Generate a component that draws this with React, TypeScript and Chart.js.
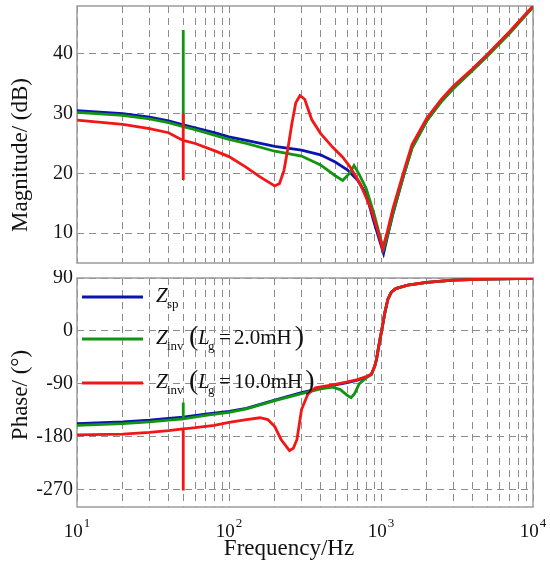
import { useEffect, useRef } from "react"
import { Chart, registerables, type Plugin } from "chart.js"

Chart.register(...registerables)

const serif = '"Liberation Serif", "Times New Roman", serif'

// Z_sp
const spMagHz = [10, 20, 30, 40, 50, 60, 80, 100, 130, 200, 300, 400, 500, 600, 700, 800, 900, 1000, 1040, 1100, 1200, 1400, 1600, 2000, 2500, 3000, 4000, 5000, 7000, 10000]
const spMagDb = [30.5, 30.0, 29.4, 28.8, 28.1, 27.6, 26.8, 26.1, 25.5, 24.5, 23.9, 23.1, 21.9, 20.6, 18.9, 16.5, 11.8, 8.0, 6.6, 9.3, 13.3, 19.4, 24.3, 28.8, 32.1, 34.3, 37.3, 39.7, 43.5, 47.9]
const spPhHz = [10, 20, 30, 40, 50, 70, 100, 130, 200, 300, 400, 500, 600, 700, 800, 865, 910, 935, 985, 1010, 1060, 1110, 1170, 1250, 1500, 2000, 3000, 5000, 10000]
const spPhDeg = [-158, -155, -152, -149, -147, -142, -137, -132, -118, -105, -98, -92, -88, -84, -79, -74, -60, -48, -14, 0, 31, 54, 66, 72, 78, 82.6, 86.4, 88.3, 89.6]

// Z_inv, Lg = 2.0 mH
const inv2MagHz = [10, 20, 30, 40, 50, 50, 50, 60, 80, 100, 130, 200, 300, 400, 500, 560, 620, 665, 720, 800, 900, 1000, 1040, 1100, 1200, 1400, 1600, 2000, 2500, 3000, 4000, 5000, 7000, 10000]
const inv2MagDb = [30.2, 29.7, 29.1, 28.5, 27.8, 44.0, 27.8, 27.3, 26.4, 25.7, 25.0, 23.7, 22.9, 21.4, 19.6, 18.8, 20.0, 21.3, 19.8, 17.4, 13.2, 8.8, 7.4, 9.5, 13.4, 19.4, 24.2, 28.8, 32.0, 34.2, 37.2, 39.6, 43.4, 47.8]
const inv2PhHz = [10, 20, 30, 40, 50, 50, 50, 70, 100, 130, 200, 300, 400, 480, 540, 600, 635, 670, 720, 800, 865, 910, 935, 985, 1010, 1060, 1110, 1170, 1250, 1500, 2000, 3000, 5000, 10000]
const inv2PhDeg = [-161, -158, -155, -152, -150, -122, -150, -144, -139, -133, -119, -107, -99, -96, -100, -110, -114, -107, -90, -80, -74, -60, -48, -14, 0, 31, 54, 66, 72, 78, 82.6, 86.4, 88.3, 89.6]

// Z_inv, Lg = 10.0 mH
const inv10MagHz = [10, 20, 30, 40, 50, 50, 50, 50, 60, 80, 100, 130, 160, 200, 215, 230, 245, 260, 275, 293, 315, 350, 400, 480, 560, 625, 725, 850, 950, 1025, 1100, 1200, 1400, 1600, 2000, 2500, 3000, 4000, 5000, 7000, 10000]
const inv10MagDb = [28.9, 28.2, 27.5, 26.8, 25.5, 30.0, 18.9, 25.5, 25.0, 23.8, 22.8, 21.0, 19.4, 17.9, 18.3, 20.5, 24.4, 28.5, 31.8, 33.0, 32.4, 29.0, 26.7, 24.4, 22.7, 21.1, 18.4, 14.4, 10.5, 7.4, 10.2, 14.2, 20.0, 24.8, 29.2, 32.4, 34.6, 37.5, 39.9, 43.7, 48.0]
const inv10PhHz = [10, 20, 30, 40, 50, 50, 50, 60, 80, 100, 130, 160, 180, 200, 220, 250, 265, 280, 300, 330, 370, 500, 600, 700, 800, 865, 910, 935, 985, 1010, 1060, 1110, 1170, 1250, 1500, 2000, 3000, 5000, 10000]
const inv10PhDeg = [-177, -176, -173, -170, -167, -272, -167, -165, -161, -156, -151, -148, -151, -163, -185, -204, -200, -185, -134, -108, -97, -91, -87, -83, -78, -74, -60, -48, -14, 0, 31, 54, 66, 72, 78, 82.6, 86.4, 88.3, 89.6]

const magTicks = [10, 20, 30, 40]
const phaseTicks = [-270, -180, -90, 0, 90]
const decades = [10, 100, 1000, 10000]
const seriesColors = ["#0c14b0", "#119411", "#f21616"]
const lgValues = ["", "2.0mH", "10.0mH"]

const gridColor = "#8c8c8c"
const gridHz = decades
  .slice(0, -1)
  .flatMap((d) => [1, 2, 3, 4, 5, 6, 7, 8, 9].map((k) => k * d))
  .concat([10000])

const toPts = (xs: number[], ys: number[]) => xs.map((x, i) => ({ x, y: ys[i] }))

function lineSet(color: string, xs: number[], ys: number[], order: number) {
  return {
    data: toPts(xs, ys),
    borderColor: color,
    backgroundColor: color,
    borderWidth: 2.8,
    pointRadius: 0,
    tension: 0,
    fill: false,
    order,
  }
}

function xScale(height: number) {
  return {
    type: "logarithmic" as const,
    min: 10,
    max: 10000,
    afterBuildTicks: (s: any) => {
      s.ticks = gridHz.map((value) => ({ value }))
    },
    afterFit: (s: any) => {
      s.height = height
      s.paddingLeft = 0
      s.paddingRight = 0
    },
    ticks: { display: false },
    grid: { color: gridColor, lineWidth: 1, drawTicks: false },
    border: { display: false, dash: [7, 5] },
  }
}

function yScale(min: number, max: number, ticks: number[]) {
  return {
    min,
    max,
    afterBuildTicks: (s: any) => {
      s.ticks = ticks.map((value) => ({ value }))
    },
    afterFit: (s: any) => {
      s.width = 77
      s.paddingTop = 0
      s.paddingBottom = 0
    },
    ticks: {
      font: { family: serif, size: 20 },
      color: "#151515",
      padding: 4,
      callback: (v: any) => String(v),
    },
    grid: { color: gridColor, lineWidth: 1, drawTicks: false },
    border: { display: false, dash: [7, 5] },
  }
}

const framePlugin: Plugin = {
  id: "frame",
  beforeDatasetsDraw(chart) {
    const { ctx, chartArea: a } = chart
    ctx.save()
    ctx.strokeStyle = "#9c9c9c"
    ctx.lineWidth = 1.5
    ctx.strokeRect(a.left, a.top, a.right - a.left, a.bottom - a.top)
    ctx.restore()
  },
}

function yTitle(text: string, cy: number): Plugin {
  return {
    id: "yTitle",
    afterDraw(chart) {
      const ctx = chart.ctx
      ctx.save()
      ctx.translate(21, cy)
      ctx.rotate(-Math.PI / 2)
      ctx.font = `23px ${serif}`
      ctx.fillStyle = "#111"
      ctx.textAlign = "center"
      ctx.textBaseline = "middle"
      ctx.fillText(text, 0, 0)
      ctx.restore()
    },
  }
}

const freqAxisPlugin: Plugin = {
  id: "freqAxis",
  afterDraw(chart) {
    const { ctx } = chart
    const x = chart.scales.x
    ctx.save()
    ctx.fillStyle = "#111"
    ctx.textAlign = "left"
    ctx.textBaseline = "alphabetic"
    decades.forEach((v) => {
      const px = x.getPixelForValue(v)
      const exp = String(Math.round(Math.log10(v)))
      ctx.font = `19px ${serif}`
      const wBase = ctx.measureText("10").width
      ctx.font = `13px ${serif}`
      const wExp = ctx.measureText(exp).width
      const start = px - (wBase + 1 + wExp) / 2
      ctx.font = `19px ${serif}`
      ctx.fillText("10", start, 267)
      ctx.font = `13px ${serif}`
      ctx.fillText(exp, start + wBase + 1, 257)
    })
    ctx.font = `23px ${serif}`
    ctx.textAlign = "center"
    ctx.fillText("Frequency/Hz", 289, 285)
    ctx.restore()
  },
}

const legendY = [27, 69, 113]

const legendPlugin: Plugin = {
  id: "phaseLegend",
  afterDraw(chart) {
    const ctx = chart.ctx
    ctx.save()
    ctx.textAlign = "left"
    ctx.textBaseline = "alphabetic"
    legendY.forEach((y, i) => {
      ctx.strokeStyle = seriesColors[i]
      ctx.lineWidth = 2.8
      ctx.beginPath()
      ctx.moveTo(82, y)
      ctx.lineTo(143, y)
      ctx.stroke()
      const base = y + 5
      ctx.fillStyle = "#111"
      ctx.font = `italic 21px ${serif}`
      ctx.fillText("Z", 156, base)
      ctx.font = `13px ${serif}`
      ctx.fillText(i === 0 ? "sp" : "inv", 167, base + 6)
      if (lgValues[i]) {
        ctx.font = `28px ${serif}`
        ctx.fillText("(", 189, base + 1)
        ctx.font = `italic 21px ${serif}`
        ctx.fillText("L", 198, base)
        ctx.font = `13px ${serif}`
        ctx.fillText("g", 208, base + 6)
        ctx.font = `21px ${serif}`
        ctx.fillText("=", 219, base)
        ctx.fillText(lgValues[i], 234, base)
        const w = ctx.measureText(lgValues[i]).width
        ctx.font = `28px ${serif}`
        ctx.fillText(")", 234 + w + 3, base + 1)
      }
    })
    ctx.restore()
  },
}

export default function App() {
  const topRef = useRef<HTMLCanvasElement>(null)
  const bottomRef = useRef<HTMLCanvasElement>(null)

  useEffect(() => {
    if (!topRef.current || !bottomRef.current) return

    const common = {
      animation: false as const,
      responsive: false,
      events: [] as any[],
      plugins: { legend: { display: false }, tooltip: { enabled: false } },
    }

    const magChart = new Chart(topRef.current, {
      type: "line",
      data: {
        datasets: [
          lineSet(seriesColors[0], spMagHz, spMagDb, 3),
          lineSet(seriesColors[1], inv2MagHz, inv2MagDb, 2),
          lineSet(seriesColors[2], inv10MagHz, inv10MagDb, 1),
        ],
      },
      options: {
        ...common,
        layout: { padding: { left: 0, right: 17, top: 6, bottom: 0 } },
        scales: { x: xScale(7), y: yScale(5, 48, magTicks) },
      } as any,
      plugins: [framePlugin, yTitle("Magnitude/ (dB)", 155)],
    })

    const phaseChart = new Chart(bottomRef.current, {
      type: "line",
      data: {
        datasets: [
          lineSet(seriesColors[0], spPhHz, spPhDeg, 3),
          lineSet(seriesColors[1], inv2PhHz, inv2PhDeg, 2),
          lineSet(seriesColors[2], inv10PhHz, inv10PhDeg, 1),
        ],
      },
      options: {
        ...common,
        layout: { padding: { left: 0, right: 17, top: 8, bottom: 0 } },
        scales: { x: xScale(61), y: yScale(-300, 90, phaseTicks) },
      } as any,
      plugins: [framePlugin, yTitle("Phase/ (°)", 125), freqAxisPlugin, legendPlugin],
    })

    return () => {
      magChart.destroy()
      phaseChart.destroy()
    }
  }, [])

  return (
    <div style={{ position: "absolute", left: 0, top: 0, width: 550, height: 568, background: "#fff" }}>
      <canvas ref={topRef} width={550} height={270} style={{ display: "block" }} />
      <canvas ref={bottomRef} width={550} height={298} style={{ display: "block" }} />
    </div>
  )
}
